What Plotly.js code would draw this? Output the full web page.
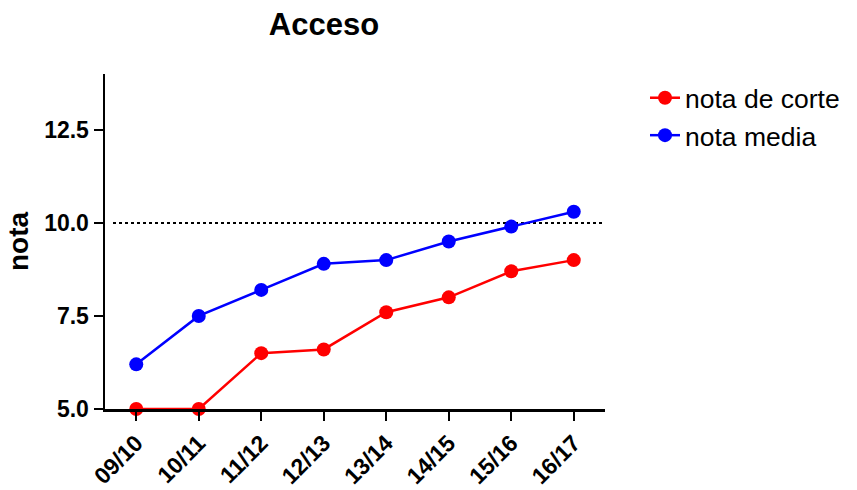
<!DOCTYPE html>
<html>
<head>
<meta charset="utf-8">
<script src="https://cdn.plot.ly/plotly-3.0.1.min.js"></script>
<style>html,body{margin:0;padding:0;background:#fff;}#chart{width:857px;height:490px;}</style>
</head>
<body>
<div id="chart"></div>
<script>
const categories = ["09/10","10/11","11/12","12/13","13/14","14/15","15/16","16/17"];
const notaCorte = [5.0, 5.0, 6.5, 6.6, 7.6, 8.0, 8.7, 9.0];
const notaMedia = [6.2, 7.5, 8.2, 8.9, 9.0, 9.5, 9.9, 10.3];
const yTicks = [5.0, 7.5, 10.0, 12.5];
const yTickLabels = ["5.0", "7.5", "10.0", "12.5"];
const refLine = 10.0;

const font = "Liberation Sans, Arial, sans-serif";
const traces = [
  {x: categories, y: notaCorte, name: "nota de corte", type: "scatter", mode: "lines+markers",
   line: {color: "#ff0000", width: 2.5}, marker: {color: "#ff0000", size: 14}, cliponaxis: false},
  {x: categories, y: notaMedia, name: "nota media", type: "scatter", mode: "lines+markers",
   line: {color: "#0000ff", width: 2.5}, marker: {color: "#0000ff", size: 14}, cliponaxis: false}
];
const layout = {
  width: 857, height: 490,
  margin: {l: 105, r: 252, t: 74, b: 81, autoexpand: false},
  paper_bgcolor: "#fff", plot_bgcolor: "#fff",
  font: {family: font, color: "#000"},
  title: {text: "<b>Acceso</b>", font: {size: 31, family: font, color: "#000"},
          x: 0.378, xref: "container", xanchor: "center", y: 0.95, yref: "container", yanchor: "middle"},
  xaxis: {type: "category", range: [-0.5, 7.5], showgrid: false, zeroline: false,
          showline: true, linecolor: "#000", linewidth: 2.5,
          ticks: "outside", ticklen: 9, tickwidth: 2, tickcolor: "#000",
          tickangle: -45, tickfont: {size: 23, family: font, color: "#000", weight: "bold"}},
  yaxis: {range: [5, 14], showgrid: false, zeroline: false,
          showline: true, linecolor: "#000", linewidth: 2.5,
          ticks: "outside", ticklen: 9, tickwidth: 2, tickcolor: "#000",
          tickvals: yTicks, ticktext: yTickLabels,
          tickfont: {size: 23, family: font, color: "#000", weight: "bold"},
          title: {text: "<b>nota</b>", font: {size: 28, family: font, color: "#000"}, standoff: 8}},
  legend: {x: 1.08, xanchor: "left", y: 1.0, yanchor: "top", font: {size: 26.5, family: font, color: "#000"},
           bgcolor: "rgba(0,0,0,0)"},
  shapes: [{type: "line", xref: "paper", yref: "y", x0: 0.016, x1: 1, y0: refLine, y1: refLine,
            line: {color: "#000", width: 2, dash: "dot"}, layer: "below"}],
  showlegend: true
};
Plotly.newPlot("chart", traces, layout, {displayModeBar: false, staticPlot: true});
</script>
</body>
</html>
